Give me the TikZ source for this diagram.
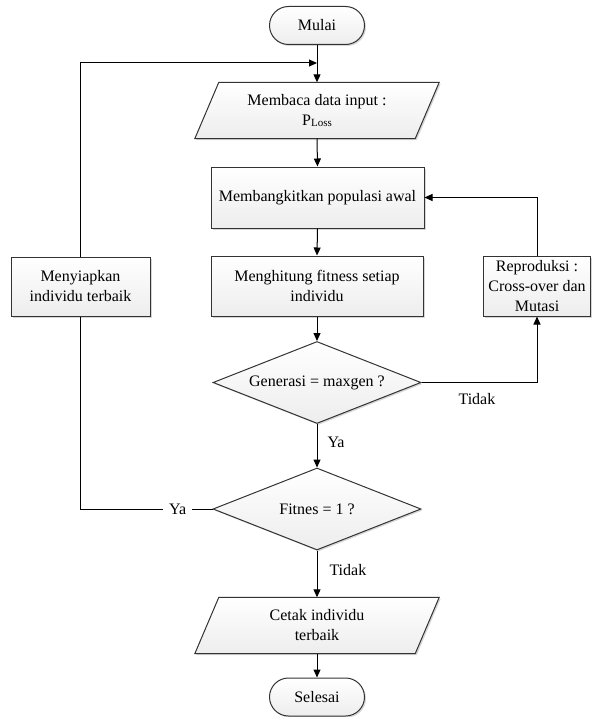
\documentclass[tikz,border=0pt]{standalone}
\usepackage{fontspec}
\setmainfont{Liberation Serif}
\usetikzlibrary{arrows.meta,shapes.geometric,shadows,backgrounds,calc}
\begin{document}
\begin{tikzpicture}[x=1pt,y=-1pt,
  font=\rmfamily\fontsize{16}{20}\selectfont,
  boxfill/.style={top color=white,bottom color=black!7,draw=black!80,line width=1pt,
    drop shadow={shadow xshift=1.5pt,shadow yshift=-1.5pt,fill=black!40,opacity=0.4}},
  proc/.style={boxfill,rectangle,align=center,inner sep=2pt},
  term/.style={boxfill,rectangle,rounded corners=19pt,minimum width=95pt,minimum height=38pt},
  dec/.style={boxfill,diamond,aspect=2.54,minimum width=208pt,minimum height=82pt,inner sep=0pt},
  io/.style={rectangle,align=center,minimum width=220pt,minimum height=56pt},
  conn/.style={line width=1pt,-{Triangle[length=8pt,width=7pt]}},
  plain/.style={line width=1pt},
  lbl/.style={inner sep=1pt}]
\useasboundingbox (0,0) rectangle (592,717);

\node[term] (start) at (317,25.5) {Mulai};
\coordinate (join) at (317,63);
\node[io] (in) at (317,110.5) {Membaca data input :\\P\raisebox{-1pt}{\fontsize{11}{12}\selectfont Loss}};
\node[proc, minimum width=213pt, minimum height=61pt] (init) at (317.5,197.5) {Membangkitkan populasi awal};
\node[proc, minimum width=212pt, minimum height=60pt] (fit) at (317,286) {Menghitung fitness setiap\\individu};
\node[dec] (gen) at (317,382.5) {Generasi = maxgen ?};
\node[dec] (fin) at (317,509) {Fitnes = 1 ?};
\node[io] (out) at (317,625.5) {Cetak individu\\terbaik};
\node[term] (end) at (317,697) {Selesai};
\node[proc, minimum width=139pt, minimum height=59pt] (best) at (80.5,286.5) {Menyiapkan\\individu terbaik};
\node[proc, minimum width=107pt, minimum height=60pt] (rep) at (537,286) {Reproduksi :\\Cross-over dan\\Mutasi};

\begin{pgfonlayer}{background}
  \path[boxfill] ($(in.north west)+(12,0)$) -- ($(in.north east)+(12,0)$) -- ($(in.south east)+(-12,0)$) -- ($(in.south west)+(-12,0)$) -- cycle;
  \path[boxfill] ($(out.north west)+(12,0)$) -- ($(out.north east)+(12,0)$) -- ($(out.south east)+(-12,0)$) -- ($(out.south west)+(-12,0)$) -- cycle;
\end{pgfonlayer}

\draw[conn] (start.south) -- (in.north);
\draw[conn] (in.south) -- (init.north);
\draw[conn] (init.south) -- (fit.north);
\draw[conn] (fit.south) -- (gen.north);
\draw[conn] (gen.south) -- node[lbl, pos=0.43, right=9pt] (ya1) {Ya} (fin.north);
\draw[conn] (fin.south) -- node[lbl, pos=0.42, right=11pt] (tidak2) {Tidak} (out.north);
\draw[conn] (out.south) -- (end.north);
\draw[conn] (gen.east) -| node[lbl, pos=0.24, below=9pt] (tidak1) {Tidak} (rep.south);
\draw[conn] (rep.north) |- (init.east);
\draw[plain] (fin.west) -| node[pos=0.132, fill=white, inner xsep=6pt, inner ysep=1pt] (ya2) {Ya} (best.south);
\draw[conn] (best.north) |- (join);
\end{tikzpicture}
\end{document}
